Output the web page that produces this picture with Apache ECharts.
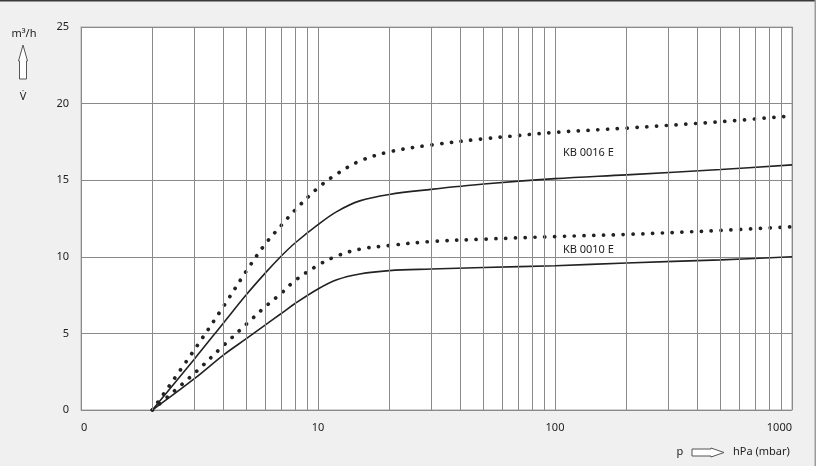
<!DOCTYPE html>
<html>
<head>
<meta charset="utf-8">
<script src="https://cdn.jsdelivr.net/npm/echarts@6/dist/echarts.min.js"></script>
<style>
html,body{margin:0;padding:0;background:#f0f0f0;}
#c{width:816px;height:466px;}
</style>
</head>
<body>
<div id="c"></div>
<script>
// pressure points (hPa)
var pressure = [2, 3, 4, 5, 6, 7, 8, 10, 12, 15, 20, 30, 50, 100, 200, 500, 1000];
// KB 0016 E upper (dotted) and nominal (solid) curves, m3/h
var kb16Dotted = [0, 3.9, 6.78, 9.1, 10.85, 12.05, 13.05, 14.5, 15.4, 16.25, 16.85, 17.3, 17.7, 18.12, 18.4, 18.82, 19.2];
var kb16Solid  = [0, 3.3, 5.7, 7.55, 8.95, 10.05, 10.9, 12.1, 12.95, 13.65, 14.07, 14.4, 14.75, 15.1, 15.35, 15.7, 16.0];
// KB 0010 E upper (dotted) and nominal (solid) curves
var kb10Dotted = [0, 2.38, 4.22, 5.62, 6.75, 7.62, 8.45, 9.45, 10.05, 10.5, 10.74, 11.0, 11.15, 11.32, 11.46, 11.72, 11.96];
var kb10Solid  = [0, 2.03, 3.6, 4.67, 5.56, 6.3, 6.95, 7.9, 8.5, 8.88, 9.1, 9.2, 9.3, 9.42, 9.6, 9.8, 10.0];
// minor vertical grid values
var minorGrid = [2,3,4,5,6,7,8,9,20,30,40,50,60,70,80,90,200,300,400,500,600,700,800,900];
var xTicks = [1, 10, 100, 1000];
var xTickLabels = ['0', '10', '100', '1000'];
var yTicks = [0, 5, 10, 15, 20, 25];
var curveLabels = [{name:'KB 0016 E', p:108, v:16.76}, {name:'KB 0010 E', p:108, v:10.44}];

function pairs(vals){ return pressure.map(function(p,i){ return [p, vals[i]]; }); }

var FONT = 'Noto Sans';
var dotStyle = {color:'#222', width:3.7, type:[0.1, 9.7], cap:'round'};
var solidStyle = {color:'#222', width:1.6};
var SMOOTH = 0.35;

var chart = echarts.init(document.getElementById('c'), null, {renderer:'canvas'});
var option = {
  backgroundColor: '#f0f0f0',
  animation: false,
  grid: {left:81, right:24, top:27, bottom:56, show:true, backgroundColor:'#fff', borderColor:'#c4c4c4', borderWidth:1.5},
  xAxis: {
    type:'log', logBase:10, min:1, max:1000,
    axisLine:{show:false}, axisTick:{show:false},
    splitLine:{show:true, lineStyle:{color:'#8a8a8a', width:1}},
    minorTick:{show:false}, minorSplitLine:{show:false},
    axisLabel:{
      color:'#222', fontFamily:FONT, fontSize:11, margin:12,
      alignMinLabel:'left', alignMaxLabel:'right',
      formatter:function(v){ var i = xTicks.indexOf(Math.round(v)); return i>=0 ? xTickLabels[i] : ''; }
    }
  },
  yAxis: {
    type:'value', min:yTicks[0], max:yTicks[yTicks.length-1], interval:5,
    axisLine:{show:false}, axisTick:{show:false},
    splitLine:{show:true, lineStyle:{color:'#8a8a8a', width:1}},
    axisLabel:{color:'#222', fontFamily:FONT, fontSize:11, margin:12}
  },
  series: [
    {
      type:'line', data:[], silent:true,
      markLine:{
        silent:true, symbol:['none','none'], animation:false,
        label:{show:false},
        lineStyle:{color:'#8a8a8a', width:1, type:'solid'},
        data: minorGrid.map(function(v){ return {xAxis:v}; })
      }
    },
    {type:'line', data:pairs(kb16Dotted), showSymbol:false, smooth:SMOOTH, lineStyle:dotStyle},
    {type:'line', data:pairs(kb16Solid), showSymbol:false, smooth:SMOOTH, lineStyle:solidStyle,
      markPoint:{symbol:'circle', symbolSize:0, silent:true,
        label:{show:true, position:'right', distance:0, color:'#222', fontFamily:FONT, fontSize:11, formatter:'{b}'},
        data:[{name:curveLabels[0].name, coord:[curveLabels[0].p, curveLabels[0].v]}]}},
    {type:'line', data:pairs(kb10Dotted), showSymbol:false, smooth:SMOOTH, lineStyle:dotStyle},
    {type:'line', data:pairs(kb10Solid), showSymbol:false, smooth:SMOOTH, lineStyle:solidStyle,
      markPoint:{symbol:'circle', symbolSize:0, silent:true,
        label:{show:true, position:'right', distance:0, color:'#222', fontFamily:FONT, fontSize:11, formatter:'{b}'},
        data:[{name:curveLabels[1].name, coord:[curveLabels[1].p, curveLabels[1].v]}]}}
  ],
  graphic: [
    {type:'rect', shape:{x:0, y:0, width:816, height:1.5}, style:{fill:'#3a3a3a'}, silent:true},
    {type:'rect', shape:{x:814.5, y:0, width:1.5, height:466}, style:{fill:'#9a9a9a'}, silent:true},
    {type:'text', x:24, y:34, style:{text:'m³/h', fill:'#222', font:'11px "Noto Sans"', align:'center', verticalAlign:'middle'}},
    {type:'polygon', shape:{points:[[23,45],[27.5,61],[26.5,61],[26.5,79],[19.5,79],[19.5,61],[18.5,61]]},
      style:{fill:'#fff', stroke:'#555', lineWidth:1}},
    {type:'text', x:23, y:97, style:{text:'V̇', fill:'#222', font:'11px "Noto Sans"', align:'center', verticalAlign:'middle'}},
    {type:'text', x:680, y:452, style:{text:'p', fill:'#222', font:'11px "Noto Sans"', align:'center', verticalAlign:'middle'}},
    {type:'polygon', shape:{points:[[692,449],[711,449],[711,448],[724,452.5],[711,457],[711,456],[692,456]]},
      style:{fill:'#fff', stroke:'#555', lineWidth:1}},
    {type:'text', x:733, y:452, style:{text:'hPa (mbar)', fill:'#222', font:'11px "Noto Sans"', align:'left', verticalAlign:'middle'}}
  ]
};
chart.setOption(option);
</script>
</body>
</html>
